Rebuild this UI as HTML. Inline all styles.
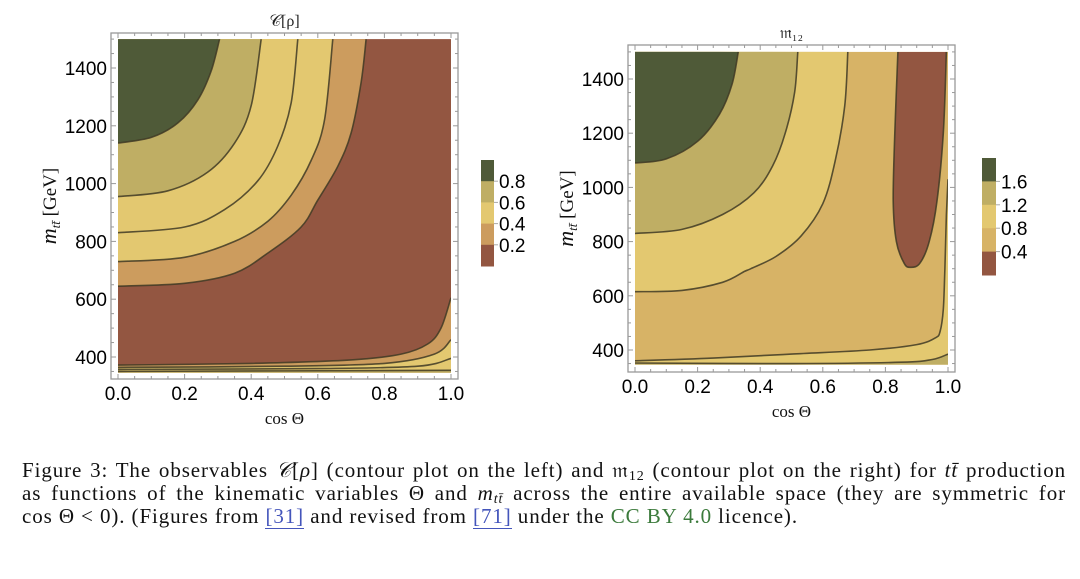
<!DOCTYPE html>
<html><head><meta charset="utf-8">
<style>
body{margin:0;background:#fff;width:1080px;height:579px;overflow:hidden;}
svg{position:absolute;left:0;top:0;}
#cap{position:absolute;left:22px;top:459px;width:1044px;font-family:"Liberation Serif",serif;font-size:21px;letter-spacing:0.9px;color:#111;}
#cap div{height:23px;line-height:23px;white-space:nowrap;}
#cap .j{text-align:justify;text-align-last:justify;white-space:normal;}
#cap sub{font-size:14px;line-height:0;vertical-align:-3px;}
#cap a{color:#4455bb;text-decoration:none;border-bottom:1px solid #4455bb;}
#cap .g{color:#3b7a3b;}
</style></head><body>
<svg id="fig" width="1080" height="440" xmlns="http://www.w3.org/2000/svg"></svg>
<div id="cap">
<div class="j">Figure 3: The observables <i>𝒞</i>[<i>ρ</i>] (contour plot on the left) and 𝔪<sub>12</sub> (contour plot on the right) for <i>tt̄</i> production</div>
<div class="j">as functions of the kinematic variables Θ and <i>m<sub>tt̄</sub></i> across the entire available space (they are symmetric for</div>
<div>cos Θ &lt; 0). (Figures from <a>[31]</a> and revised from <a>[71]</a> under the <span class="g">CC BY 4.0</span> licence).</div>
</div>
<script>
// ---- data: left plot (C[rho]) contour lines, [cosTheta, m_tt] ----
const leftTop02 = [[0,645],[0.2,655],[0.35,690],[0.45,760],[0.55,850],[0.6,943],[0.66,1060],[0.70,1175],[0.73,1350],[0.745,1500]];
const leftTop04 = [[0,730],[0.2,745],[0.35,800],[0.45,870],[0.52,960],[0.58,1080],[0.62,1220],[0.645,1500]];
const leftTop05 = [[0,830],[0.2,850],[0.32,910],[0.42,1010],[0.48,1130],[0.52,1280],[0.54,1500]];
const leftTop06 = [[0,955],[0.15,975],[0.27,1040],[0.35,1140],[0.4,1270],[0.43,1500]];
const leftTop08 = [[0,1140],[0.1,1160],[0.18,1210],[0.24,1290],[0.28,1390],[0.305,1500]];
const leftBot1 = [[0,372],[0.4,378],[0.7,390],[0.85,410],[0.93,445],[0.97,500],[1,605]];
const leftBot2 = [[0,364],[0.5,368],[0.8,378],[0.95,410],[1,460]];
const leftBot3 = [[0,357],[0.6,360],[0.9,368],[1,395]];
const leftBot4 = [[0,350],[1,354]];
const leftTicksX = ["0.0","0.2","0.4","0.6","0.8","1.0"];
const leftTicksY = [400,600,800,1000,1200,1400];
const leftLegend = ["0.8","0.6","0.4","0.2"];
// ---- data: right plot (m12) ----
const rightG16 = [[0,1090],[0.1,1105],[0.2,1170],[0.27,1270],[0.31,1380],[0.33,1500]];
const rightO12 = [[0,830],[0.15,845],[0.28,900],[0.38,980],[0.44,1080],[0.48,1200],[0.51,1350],[0.52,1500]];
const rightY08 = [[0,615],[0.15,620],[0.28,650],[0.35,690],[0.37,700],[0.45,745],[0.53,820],[0.6,940],[0.64,1100],[0.67,1300],[0.68,1500]];
const rightLoop = [[0.84,1500],[0.83,1200],[0.825,950],[0.835,800],[0.86,720],[0.88,705],[0.91,720],[0.94,800],[0.965,950],[0.985,1200],[0.995,1500]];
const rightBot1 = [[1,1030],[0.995,900],[0.99,700],[0.985,550],[0.975,470],[0.96,445],[0.9,420],[0.75,400],[0.5,385],[0.25,370],[0,360]];
const rightBot2 = [[0,352],[0.5,350],[0.85,355],[0.95,365],[1,385]];
const rightTicksX = ["0.0","0.2","0.4","0.6","0.8","1.0"];
const rightTicksY = [400,600,800,1000,1200,1400];
const rightLegend = ["1.6","1.2","0.8","0.4"];

const C = {g:"#4f5a38",o:"#bfae64",y:"#e3c870",t:"#cc9c5e",t2:"#d7b366",b:"#935641"};
const NS="http://www.w3.org/2000/svg";
const svg=document.getElementById('fig');
function el(tag,attrs,parent){const e=document.createElementNS(NS,tag);for(const k in attrs)e.setAttribute(k,attrs[k]);(parent||svg).appendChild(e);return e;}
function txt(s,attrs,parent){const e=el('text',attrs,parent);e.textContent=s;return e;}

function smooth(p){
  let d=p[0][0].toFixed(1)+','+p[0][1].toFixed(1);
  for(let i=0;i<p.length-1;i++){
    const p0=p[Math.max(i-1,0)],p1=p[i],p2=p[i+1],p3=p[Math.min(i+2,p.length-1)];
    const c1=[p1[0]+(p2[0]-p0[0])/6,p1[1]+(p2[1]-p0[1])/6];
    const c2=[p2[0]-(p3[0]-p1[0])/6,p2[1]-(p3[1]-p1[1])/6];
    d+=' C'+c1.map(v=>v.toFixed(1))+' '+c2.map(v=>v.toFixed(1))+' '+p2.map(v=>v.toFixed(1));
  }
  return d;
}

function plot(o){
  const sx=c=>o.x0+(o.x1-o.x0)*c, sy=m=>o.y400+(400-m)*o.k;
  const g=el('g',{});
  
  
  const yTop=sy(1500), yBot=sy(346);
  const fr=el('rect',{x:o.fx0,y:o.fy0,width:o.fx1-o.fx0,height:o.fy1-o.fy0,fill:'#fff',stroke:'#999','stroke-width':1.3},g);
  
  const bg=el('rect',{x:sx(0),y:yTop,width:sx(1)-sx(0),height:yBot-yTop,fill:o.bg},g);
  
  const clipId=o.name+'-clip';
  const cp=el('clipPath',{id:clipId},g);el('rect',{x:sx(0),y:yTop,width:sx(1)-sx(0),height:yBot-yTop},cp);
  const inner=el('g',{'clip-path':`url(#${clipId})`},g);
  const S=pts=>smooth(pts.map(p=>[sx(p[0]),sy(p[1])]));
  o.regions.forEach(r=>{
    let d='M'+S(r.pts);
    const first=r.pts[0],last=r.pts[r.pts.length-1];
    if(r.close==='tl') d+=' L'+sx(0)+','+(yTop-2);
    else if(r.close==='bot'){
      d+=' L'+sx(last[0])+','+(yBot+2)+' L'+sx(first[0])+','+(yBot+2);
    }
    d+=' Z';
    const f=el('path',{d:d,fill:r.fill,stroke:'none'},inner);
    
  });
  o.regions.forEach(r=>{
    const l=el('path',{d:'M'+S(r.pts),fill:'none',stroke:'#3f3a25','stroke-width':1.6,'stroke-opacity':0.85},inner);
    
  });
  for(let i=0;i<=20;i++){const x=sx(i/20),len=i%4===0?5:3;
    el('line',{x1:x,y1:o.fy1,x2:x,y2:o.fy1-len,stroke:'#999'},g);el('line',{x1:x,y1:o.fy0,x2:x,y2:o.fy0+len,stroke:'#999'},g);}
  for(let m=350;m<=1500;m+=50){const y=sy(m),len=m%200===0?5:3;
    el('line',{x1:o.fx0,y1:y,x2:o.fx0+len,y2:y,stroke:'#999'},g);el('line',{x1:o.fx1,y1:y,x2:o.fx1-len,y2:y,stroke:'#999'},g);}
  o.ticksX.forEach((s,i)=>{const t=txt(s,{x:sx(i*0.2),y:o.fy1+21,'text-anchor':'middle','font-family':'Liberation Sans, sans-serif','font-size':19,fill:'#000'},g);
    });
  o.ticksY.forEach(m=>{const t=txt(String(m),{x:o.fx0-4,y:sy(m)+7,'text-anchor':'end','font-family':'Liberation Sans, sans-serif','font-size':19,fill:'#000'},g);
    });
  const tt=txt(o.title,{x:(o.fx0+o.fx1)/2,y:o.fy0-7,'text-anchor':'middle','font-family':'Liberation Serif, serif','font-size':16,fill:'#222'},g);
  
  const xt=txt('cos Θ',{x:(o.fx0+o.fx1)/2,y:o.fy1+45,'text-anchor':'middle','font-family':'Liberation Serif, serif','font-size':17,fill:'#111'},g);
  
  const yc=(o.fy0+o.fy1)/2;
  const yt=el('text',{x:0,y:0,transform:`translate(${o.fx0-55},${yc}) rotate(-90)`,'text-anchor':'middle','font-family':'Liberation Serif, serif','font-size':19,fill:'#111'},g);
  yt.innerHTML='<tspan font-style="italic" font-size="22">m</tspan><tspan font-style="italic" font-size="13" dy="4">tt̄</tspan><tspan dy="-4"> [GeV]</tspan>';
  
  const lg=el('g',{},g);
  const cols=o.legendCols, h=(o.ly1-o.ly0)/cols.length;
  cols.forEach((c,i)=>{const r=el('rect',{x:o.lx,y:o.ly0+i*h,width:o.lw,height:h+0.5,fill:c},lg);});
  o.legend.forEach((s,i)=>{const y=o.ly0+(i+1)*h;
    el('line',{x1:o.lx+o.lw,y1:y,x2:o.lx+o.lw+4,y2:y,stroke:'#aaa'},lg);
    const t=txt(s,{x:o.lx+o.lw+5,y:y+7,'font-family':'Liberation Sans, sans-serif','font-size':19,fill:'#000'},lg);
    });
}

plot({name:'left-contour-plot',x0:118,x1:451,y400:357,k:0.289,fx0:111,fx1:458,fy0:33,fy1:379,bg:C.b,title:'𝒞[ρ]',
  ticksX:leftTicksX,ticksY:leftTicksY,legend:leftLegend,legendCols:[C.g,C.o,C.y,C.t,C.b],lx:481,lw:13,ly0:160,ly1:266,
  regions:[{pts:leftTop02,fill:C.t,close:'tl'},{pts:leftTop04,fill:C.y,close:'tl'},{pts:leftTop05,fill:C.y,close:'tl'},
    {pts:leftTop06,fill:C.o,close:'tl'},{pts:leftTop08,fill:C.g,close:'tl'},
    {pts:leftBot1,fill:C.t,close:'bot'},{pts:leftBot2,fill:C.y,close:'bot'},{pts:leftBot3,fill:C.y,close:'bot'},{pts:leftBot4,fill:C.o,close:'bot'}]});
plot({name:'right-contour-plot',x0:635,x1:948,y400:350,k:0.271,fx0:628,fx1:955,fy0:45,fy1:372,bg:C.t2,title:'𝔪₁₂',
  ticksX:rightTicksX,ticksY:rightTicksY,legend:rightLegend,legendCols:[C.g,C.o,C.y,C.t2,C.b],lx:982,lw:14,ly0:158,ly1:275,
  regions:[{pts:rightY08,fill:C.y,close:'tl'},{pts:rightO12,fill:C.o,close:'tl'},{pts:rightG16,fill:C.g,close:'tl'},
    {pts:rightLoop,fill:C.b,close:'none'},{pts:rightBot1,fill:C.y,close:'bot'},{pts:rightBot2,fill:C.o,close:'bot'}]});
</script>
</body></html>
